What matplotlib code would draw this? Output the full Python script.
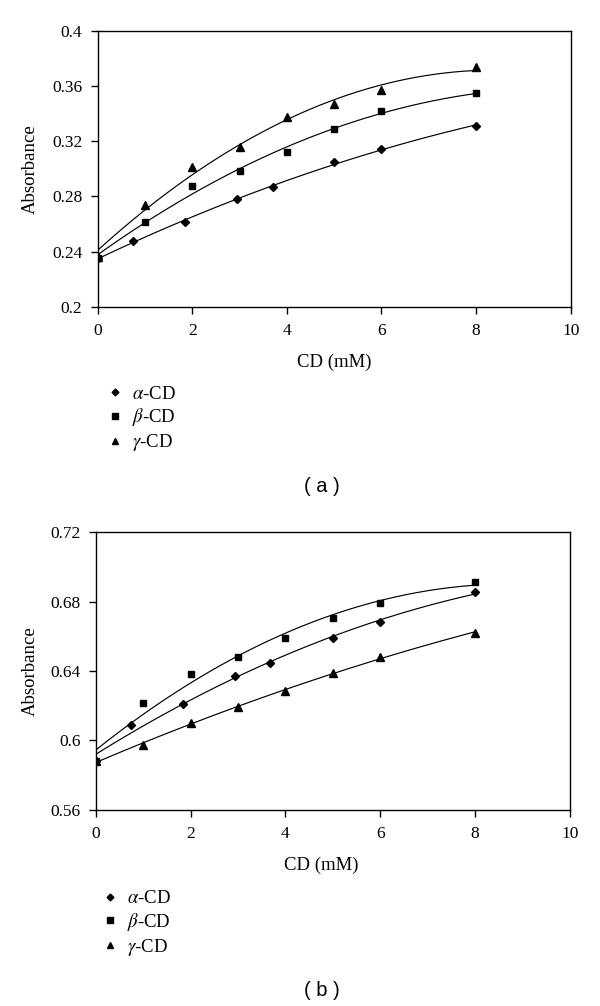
import numpy as np
import matplotlib
matplotlib.use("Agg")
import matplotlib.pyplot as plt

plt.rcParams['font.family'] = ['Liberation Serif', 'DejaVu Serif']
plt.rcParams['mathtext.fontset'] = 'stix'

# ---- data (a) ----
a_alpha_x = [0, 0.74, 1.85, 2.95, 3.7, 5, 6, 8]
a_alpha_y = [0.235, 0.2476, 0.2611, 0.2778, 0.2867, 0.305, 0.3143, 0.331]
a_beta_x = [0, 1, 2, 3, 4, 5, 6, 8]
a_beta_y = [0.2355, 0.2616, 0.2872, 0.2986, 0.3121, 0.3285, 0.3418, 0.3546]
a_gamma_x = [0, 1, 2, 3, 4, 5, 6, 8]
a_gamma_y = [0.236, 0.2737, 0.301, 0.3157, 0.3372, 0.3469, 0.357, 0.3739]

# ---- data (b) ----
b_alpha_x = [0, 0.74, 1.84, 2.94, 3.68, 5, 6, 8]
b_alpha_y = [0.588, 0.6087, 0.621, 0.637, 0.6447, 0.6591, 0.668, 0.6855]
b_beta_x = [0, 1, 2, 3, 4, 5, 6, 8]
b_beta_y = [0.588, 0.6212, 0.638, 0.6482, 0.6588, 0.6703, 0.6792, 0.6915]
b_gamma_x = [0, 1, 2, 3, 4, 5, 6, 8]
b_gamma_y = [0.588, 0.5971, 0.6102, 0.6189, 0.6285, 0.6389, 0.6482, 0.662]

labels = [r'$\alpha$-CD', r'$\beta$-CD', r'$\gamma$-CD']
markers = ['D', 's', '^']
msizes = [4.3, 5.0, 5.8]

a_yticks = [0.2, 0.24, 0.28, 0.32, 0.36, 0.4]
a_yticklabels = ['0.2', '0.24', '0.28', '0.32', '0.36', '0.4']
b_yticks = [0.56, 0.6, 0.64, 0.68, 0.72]
b_yticklabels = ['0.56', '0.6', '0.64', '0.68', '0.72']
xticks = [0, 2, 4, 6, 8, 10]

TICK_FS = 12.5
LAB_FS = 13.5

fig = plt.figure(figsize=(6, 10.06), dpi=100)

def panel(rect, series, yticks, yticklabels, ylim, leg_anchor, tag, tag_pos, xlab_x, ylab_x):
    ax = fig.add_axes(rect)
    handles = []
    for (xs, ys), m, ms, lab in zip(series, markers, msizes, labels):
        xs = np.array(xs, float); ys = np.array(ys, float)
        coef = np.polyfit(xs, ys, 2)
        xx = np.linspace(0, 8, 200)
        ax.plot(xx, np.polyval(coef, xx), color='black', lw=0.85, zorder=2)
        h, = ax.plot(xs, ys, linestyle='none', marker=m, ms=ms, color='black',
                     zorder=3, label=lab)
        handles.append(h)
    ax.set_xlim(0, 10)
    ax.set_ylim(*ylim)
    ax.set_xticks(xticks)
    ax.set_xticklabels([str(t) for t in xticks])
    ax.set_yticks(yticks)
    ax.set_yticklabels(yticklabels)
    ax.tick_params(axis='both', direction='out', length=5, width=1,
                   labelsize=TICK_FS, top=False, right=False)
    ax.tick_params(axis='x', pad=7)
    ax.tick_params(axis='y', pad=6)
    for s in ax.spines.values():
        s.set_linewidth(1.0)
    ax.set_xlabel('CD (mM)', fontsize=LAB_FS)
    ax.set_ylabel('Absorbance', fontsize=LAB_FS)
    ax.xaxis.set_label_coords(xlab_x, -0.2)
    ax.xaxis.label.set_va('center')
    ax.yaxis.set_label_coords(ylab_x, 0.5)
    ax.yaxis.label.set_va('center')
    fig.legend(handles=handles, loc='upper left', bbox_to_anchor=leg_anchor,
               bbox_transform=fig.transFigure, frameon=False, fontsize=LAB_FS,
               handlelength=0.8, handletextpad=0.5, labelspacing=0.2,
               borderpad=0, borderaxespad=0, markerscale=0.8)
    fig.text(tag_pos[0], tag_pos[1], tag, ha='center', va='center',
             fontsize=14.5, family=['Liberation Sans', 'DejaVu Sans'])
    return ax

panel([0.1628, 0.6951, 0.7883, 0.2744],
      [(a_alpha_x, a_alpha_y), (a_beta_x, a_beta_y), (a_gamma_x, a_gamma_y)],
      a_yticks, a_yticklabels, (0.2, 0.4), (0.179, 1 - 385.5/1006), '( a )',
      (0.537, 1 - 486.7/1006), 0.5, -0.143)

panel([0.1595, 0.1953, 0.7905, 0.2756],
      [(b_alpha_x, b_alpha_y), (b_beta_x, b_beta_y), (b_gamma_x, b_gamma_y)],
      b_yticks, b_yticklabels, (0.56, 0.72), (0.171, 1 - 890/1006), '( b )',
      (0.536, 1 - 990/1006), 0.476, -0.1385)

fig.savefig('out.png', dpi=100)
